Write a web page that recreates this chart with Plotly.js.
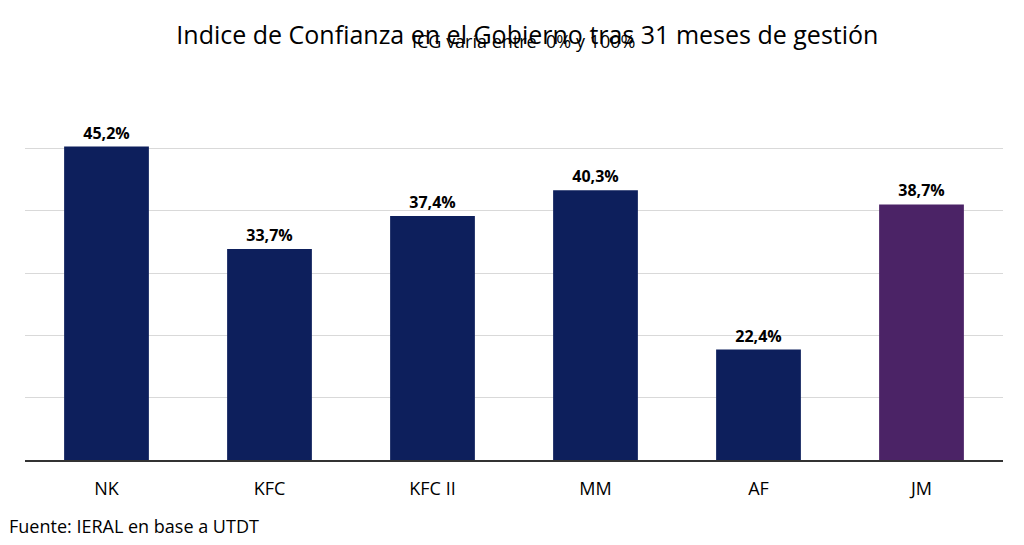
<!DOCTYPE html>
<html><head><meta charset="utf-8">
<script src="https://cdn.plot.ly/plotly-3.0.1.min.js"></script>
<style>body{margin:0}</style></head>
<body><div id="chart" style="width:1024px;height:545px"></div>
<script>
const categories = ["NK", "KFC", "KFC II", "MM", "AF", "JM"]
const values = [45.2, 33.7, 37.4, 40.3, 22.4, 38.7]
const labels = ["45,2%", "33,7%", "37,4%", "40,3%", "22,4%", "38,7%"]
const colors = ["#0d1f5c", "#0d1f5c", "#0d1f5c", "#0d1f5c", "#0d1f5c", "#4b2366"]

Plotly.newPlot("chart", [{
  type: "bar",
  x: categories,
  y: values,
  text: labels.map(t => "<b>" + t + "</b>"),
  textposition: "outside",
  textfont: {family: "Open Sans", size: 16, color: "#000"},
  marker: {color: colors},
  width: 0.52,
  cliponaxis: false,
  hoverinfo: "skip",
}], {
  margin: {l: 25, r: 21, t: 86, b: 85},
  paper_bgcolor: "#fff",
  plot_bgcolor: "#fff",
  showlegend: false,
  font: {family: "Open Sans", color: "#000"},
  title: {
    text: "Indice de Confianza en el Gobierno tras 31 meses de gestión",
    font: {size: 25, color: "#000"}, x: 0.515, xanchor: "center", y: 0.935, yanchor: "middle",
  },
  xaxis: {
    tickfont: {size: 18}, showline: true, linecolor: "#333", linewidth: 1.5,
    ticks: "", ticklabelstandoff: 12,
  },
  yaxis: {
    range: [10, 52], dtick: 7, tick0: 10, showticklabels: false,
    gridcolor: "#d9d9d9", zeroline: false,
  },
  annotations: [{
    text: "ICG varía entre  0% y 100%", xref: "paper", yref: "paper",
    x: 0.51, y: 1.12, xanchor: "center", yanchor: "middle", showarrow: false,
    font: {size: 18},
  }, {
    text: "Fuente: IERAL en base a UTDT", xref: "paper", yref: "paper",
    x: -0.018, y: -0.14, xanchor: "left", yanchor: "top", showarrow: false,
    font: {size: 18},
  }],
}, {displayModeBar: false})
</script></body></html>
